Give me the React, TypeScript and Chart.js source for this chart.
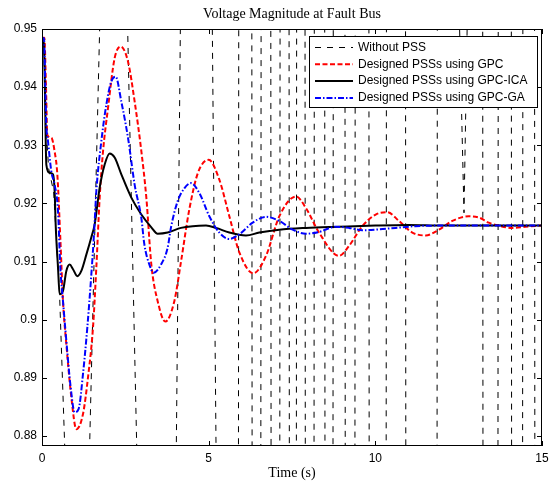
import React, { useEffect, useRef } from 'react';
import { Chart, registerables } from 'chart.js';

Chart.register(...registerables);

// ---------- data ----------
const seriesNames = [
  'Without PSS',
  'Designed PSSs using GPC',
  'Designed PSSs using GPC-ICA',
  'Designed PSSs using GPC-GA',
];

// Without PSS (unstable, goes off-scale)
const tWithout = [
  0, 0.05, 0.1, 0.2, 0.35, 0.45, 0.53, 0.695,
  1.419, 1.738, 2.562, 2.85, 4.026, 4.154, 5.107, 5.224,
  5.894, 5.902, 6.295, 6.303, 6.565, 6.573, 6.864, 6.872,
  7.134, 7.142, 7.412, 7.42, 7.631, 7.639, 7.891, 7.899,
  8.161, 8.169, 8.481, 8.489, 8.73, 8.738, 9.089, 9.097,
  9.388, 9.396, 9.807, 9.815, 10.325, 10.333, 10.906, 10.914,
  11.852, 11.86, 12.52, 12.66, 12.76, 13.221, 13.229, 13.679,
  13.687, 14.08, 14.088, 14.418, 14.426, 14.777, 14.785, 15,
];
const vWithout = [
  0.9484, 0.9484, 0.935, 0.926, 0.922, 0.912, 0.9039, 0.876,
  0.876, 0.952, 0.952, 0.876, 0.876, 0.952, 0.952, 0.876,
  0.876, 0.952, 0.952, 0.876, 0.876, 0.952, 0.952, 0.876,
  0.876, 0.952, 0.952, 0.876, 0.876, 0.952, 0.952, 0.876,
  0.876, 0.952, 0.952, 0.876, 0.876, 0.952, 0.952, 0.876,
  0.876, 0.952, 0.952, 0.876, 0.876, 0.952, 0.952, 0.876,
  0.876, 0.952, 0.952, 0.9184, 0.952, 0.952, 0.876, 0.876,
  0.952, 0.952, 0.876, 0.876, 0.952, 0.952, 0.876, 0.876,
];

// GPC (red dashed)
const tGPC = [
  0, 0.07, 0.12, 0.16, 0.28, 0.38, 0.46, 0.55, 0.63, 0.73, 0.88, 1.03,
  1.23, 1.38, 1.53, 1.63, 1.73, 1.83, 1.98, 2.18, 2.36, 2.58, 2.78, 2.98,
  3.13, 3.28, 3.47, 3.7, 3.97, 4.17, 4.42, 4.68, 5.0, 5.32, 5.62, 5.92,
  6.34, 6.72, 7.12, 7.62, 7.92, 8.31, 8.91, 9.21, 9.61, 10.01, 10.36, 10.71,
  11.11, 11.51, 11.91, 12.31, 12.8, 13.1, 13.4, 13.7, 14.1, 14.5, 15,
];
const vGPC = [
  0.9485, 0.9485, 0.94, 0.9318, 0.9313, 0.9289, 0.925, 0.914, 0.9032, 0.8958, 0.8867, 0.8812,
  0.8838, 0.8901, 0.8987, 0.909, 0.921, 0.9289, 0.9364, 0.945, 0.947, 0.9444, 0.9375, 0.929,
  0.921, 0.9095, 0.9032, 0.8997, 0.9032, 0.91, 0.919, 0.9253, 0.9275, 0.9241, 0.9178, 0.9116,
  0.908, 0.911, 0.9178, 0.9212, 0.9192, 0.915, 0.911, 0.9127, 0.9161, 0.9181, 0.9185, 0.917,
  0.915, 0.9145, 0.9155, 0.917, 0.9178, 0.9176, 0.9167, 0.9162, 0.9158, 0.916, 0.9162,
];

// GPC-ICA (black solid)
const tICA = [
  0, 0.05, 0.08, 0.13, 0.23, 0.33, 0.38, 0.41, 0.48, 0.53, 0.63, 0.73,
  0.83, 0.93, 1.06, 1.18, 1.33, 1.48, 1.58, 1.73, 1.88, 2.03, 2.18, 2.38,
  2.68, 2.98, 3.28, 3.47, 3.77, 4.17, 4.52, 4.92, 5.22, 5.62, 6.12, 6.52,
  7.12, 7.92, 8.91, 10.0, 11.0, 12.0, 13.0, 15,
];
const vICA = [
  0.9484, 0.9484, 0.942, 0.9267, 0.9253, 0.925, 0.922, 0.9164, 0.909, 0.9044, 0.905, 0.9084,
  0.9095, 0.9087, 0.9075, 0.9084, 0.9112, 0.9142, 0.9164, 0.9227, 0.9267, 0.9286, 0.9279, 0.925,
  0.921, 0.9181, 0.9159, 0.9148, 0.915, 0.9158, 0.9161, 0.9162, 0.9158, 0.915, 0.9145, 0.915,
  0.9155, 0.9158, 0.916, 0.9162, 0.9163, 0.9162, 0.9162, 0.9162,
];

// GPC-GA (blue dash-dot)
const tGA = [
  0, 0.06, 0.1, 0.13, 0.18, 0.28, 0.38, 0.48, 0.55, 0.63, 0.73, 0.86,
  0.98, 1.1, 1.23, 1.36, 1.48, 1.56, 1.63, 1.78, 1.93, 2.08, 2.21, 2.38,
  2.58, 2.78, 2.98, 3.07, 3.22, 3.35, 3.57, 3.77, 3.87, 4.07, 4.27, 4.47,
  4.72, 5.02, 5.32, 5.62, 5.92, 6.32, 6.72, 7.12, 7.52, 7.92, 8.31, 8.81,
  9.21, 9.61, 10.0, 10.61, 11.2, 12, 15,
];
const vGA = [
  0.9484, 0.9484, 0.94, 0.9335, 0.9307, 0.9255, 0.9232, 0.9187, 0.909, 0.9032, 0.8964, 0.8884,
  0.8841, 0.8847, 0.8907, 0.8987, 0.9078, 0.9147, 0.9221, 0.9307, 0.937, 0.941, 0.9418, 0.9375,
  0.9313, 0.9232, 0.9175, 0.913, 0.9095, 0.9081, 0.9095, 0.9124, 0.9159, 0.9204, 0.9226, 0.9235,
  0.9218, 0.9178, 0.915, 0.9139, 0.9147, 0.9167, 0.9177, 0.917, 0.9155, 0.9148, 0.9151, 0.916,
  0.9158, 0.9154, 0.9155, 0.9158, 0.9161, 0.9162, 0.9162,
];

const xTicks = [0, 5, 10, 15];
const xTickLabels = ['0', '5', '10', '15'];
const yTicks = [0.88, 0.89, 0.9, 0.91, 0.92, 0.93, 0.94, 0.95];
const yTickLabels = ['0.88', '0.89', '0.9', '0.91', '0.92', '0.93', '0.94', '0.95'];

const titleText = 'Voltage Magnitude at Fault Bus';
const xTitleText = 'Time (s)';

// ---------- styles ----------
const colors = ['#000000', '#ff0000', '#000000', '#0000ff'];
const widths = [1, 2, 2, 2];
const dashes: number[][] = [[6, 6], [5, 2.5], [], [6, 2, 1.5, 2]];

const pts = (t: number[], v: number[]) => t.map((x, i) => ({ x, y: v[i] }));

const SANS = '"Liberation Sans", Arial, sans-serif';
const SERIF = '"Liberation Serif", "Times New Roman", serif';

const framePlugin = {
  id: 'matlabFrame',
  afterDatasetsDraw(chart: any) {
    const { ctx, chartArea: a, scales } = chart;
    ctx.save();
    ctx.setLineDash([]);
    ctx.strokeStyle = '#000';
    ctx.lineWidth = 1;
    // box
    ctx.strokeRect(Math.round(a.left) + 0.5, Math.round(a.top) + 0.5, Math.round(a.right - a.left) - 1, Math.round(a.bottom - a.top) - 1);
    // inward ticks
    const tl = 5;
    ctx.beginPath();
    xTicks.forEach((v) => {
      const px = Math.round(scales.x.getPixelForValue(v)) + 0.5;
      ctx.moveTo(px, a.bottom);
      ctx.lineTo(px, a.bottom - tl);
      ctx.moveTo(px, a.top);
      ctx.lineTo(px, a.top + tl);
    });
    yTicks.forEach((v) => {
      const py = Math.round(scales.y.getPixelForValue(v)) + 0.5;
      ctx.moveTo(a.left, py);
      ctx.lineTo(a.left + tl, py);
      ctx.moveTo(a.right, py);
      ctx.lineTo(a.right - tl, py);
    });
    ctx.stroke();

    // legend
    const lx = a.right - 233;
    const ly = a.top + 7;
    const lw = 228;
    const lh = 71;
    ctx.fillStyle = '#fff';
    ctx.fillRect(lx, ly, lw, lh);
    ctx.strokeRect(Math.round(lx) + 0.5, Math.round(ly) + 0.5, lw, lh);
    ctx.font = `12px ${SANS}`;
    ctx.textBaseline = 'middle';
    ctx.textAlign = 'left';
    seriesNames.forEach((name, i) => {
      const ry = ly + 11.5 + i * 16.8;
      ctx.beginPath();
      ctx.setLineDash(dashes[i]);
      ctx.strokeStyle = colors[i];
      ctx.lineWidth = widths[i];
      ctx.moveTo(lx + 6, ry);
      ctx.lineTo(lx + 44, ry);
      ctx.stroke();
      ctx.setLineDash([]);
      ctx.fillStyle = '#000';
      ctx.fillText(name, lx + 49, ry);
    });

    // titles
    const cx = (a.left + a.right) / 2;
    ctx.fillStyle = '#000';
    ctx.textAlign = 'center';
    ctx.textBaseline = 'alphabetic';
    ctx.font = `14px ${SERIF}`;
    ctx.fillText(titleText, cx, 18);
    ctx.font = `14px ${SERIF}`;
    ctx.fillText(xTitleText, cx, 477);
    ctx.restore();
  },
};

export default function App() {
  const ref = useRef<HTMLCanvasElement | null>(null);
  useEffect(() => {
    if (!ref.current) return;
    const series = [pts(tWithout, vWithout), pts(tGPC, vGPC), pts(tICA, vICA), pts(tGA, vGA)];
    const chart = new Chart(ref.current, {
      type: 'line',
      data: {
        datasets: series.map((d, i) => ({
          label: seriesNames[i],
          data: d,
          borderColor: colors[i],
          borderWidth: widths[i],
          borderDash: dashes[i],
          pointRadius: 0,
          fill: false,
          order: 4 - i,
          tension: i === 0 ? 0 : 0.4,
          cubicInterpolationMode: i === 0 ? 'default' : 'monotone',
        })),
      },
      options: {
        responsive: false,
        animation: false,
        devicePixelRatio: 1,
        layout: { padding: { top: 29, right: 12, left: 0, bottom: 0 } },
        plugins: { legend: { display: false }, tooltip: { enabled: false }, title: { display: false } },
        scales: {
          x: {
            type: 'linear',
            min: 0,
            max: 15,
            afterFit: (s: any) => { s.height = 40; },
            afterBuildTicks: (s: any) => { s.ticks = xTicks.map((v) => ({ value: v })); },
            ticks: {
              callback: (_v: any, i: number) => xTickLabels[i],
              font: { size: 12, family: SANS },
              color: '#000',
              padding: 5,
              maxRotation: 0,
            },
            grid: { display: false, drawTicks: false },
            border: { display: false },
          },
          y: {
            type: 'linear',
            min: 0.8783,
            max: 0.95,
            afterFit: (s: any) => { s.width = 42; },
            afterBuildTicks: (s: any) => { s.ticks = yTicks.map((v) => ({ value: v })); },
            ticks: {
              callback: (_v: any, i: number) => yTickLabels[i],
              font: { size: 12, family: SANS },
              color: '#000',
              padding: 5,
            },
            grid: { display: false, drawTicks: false },
            border: { display: false },
          },
        },
      },
      plugins: [framePlugin],
    } as any);
    return () => chart.destroy();
  }, []);
  return (
    <div style={{ position: 'absolute', left: 0, top: 0, width: 554, height: 486, background: '#fff' }}>
      <canvas ref={ref} width={554} height={486} style={{ display: 'block' }} />
    </div>
  );
}
